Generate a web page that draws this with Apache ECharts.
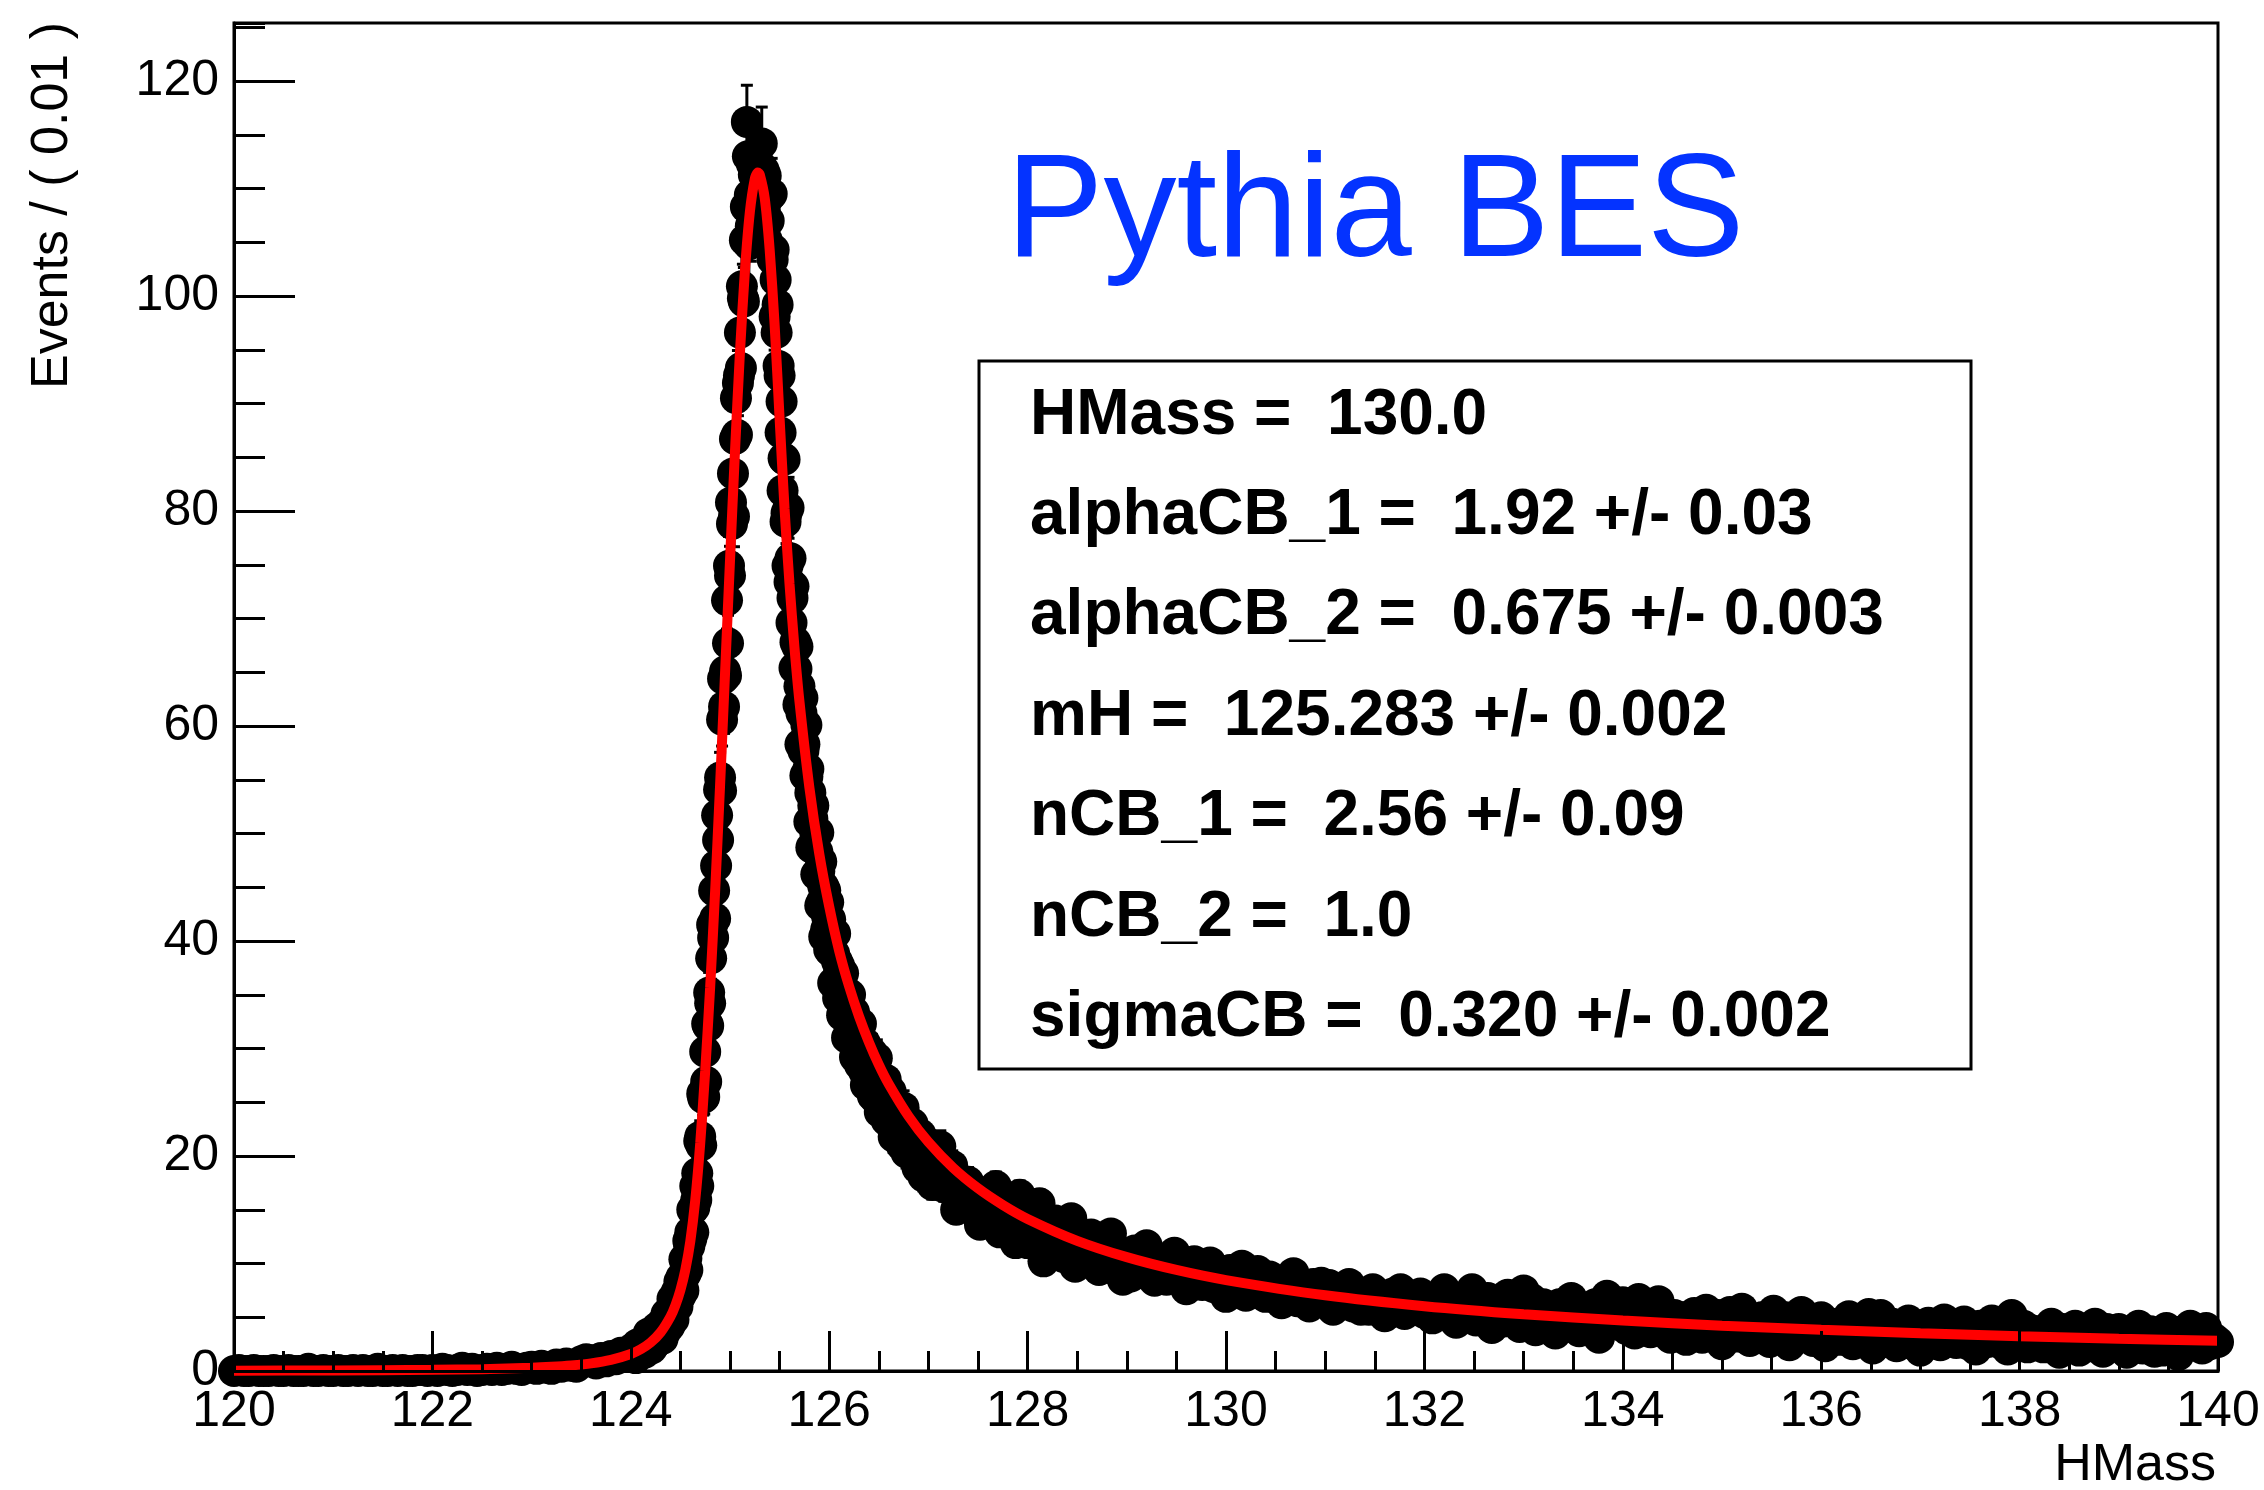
<!DOCTYPE html>
<html>
<head>
<meta charset="utf-8">
<script src="https://cdn.jsdelivr.net/npm/echarts@6/dist/echarts.min.js"></script>
<style>
  html, body { margin: 0; padding: 0; background: #ffffff; }
  #chart { width: 2264px; height: 1490px; }
</style>
</head>
<body>
<div id="chart"></div>
<script>
// ---- Binned HMass spectrum (events per bin), three binning segments ----
const lowStart = 120.0, lowStep = 0.05;
const lowEvents = [
  0,0.1,0,0,0.1,0,0,0,0.1,0, 0,0.1,0,0,0,0.2,0,0,0.1,0,
  0,0.1,0,0,0.1,0,0.1,0,0,0.2, 0,0,0.1,0,0.1,0,0,0.1,0.1,0,
  0.1,0,0.2,0.1,0,0.1,0.3,0.1,0.2,0, 0.1,0.2,0.1,0.3,0.1,0.2,0.4,0.2,0.1,0.3,
  0.4,0.2,0.5,0.3,0.2,0.6,0.4,0.7,0.5,0.4, 0.9,1.1,1.0,0.7,1.2,0.9,1.4,1.1,1.7,1.4
];

const peakStart = 124.0, peakStep = 0.01;
const peakEvents = [
  1.8,1.3,2.1,1.6,1.8,1.2,2.1,2.5,1.7,2.1,
  1.6,2.3,2.7,2.1,1.7,2.7,2.4,2.2,3.5,2.7,
  3.0,2.1,2.9,3.5,2.8,2.6,4.0,3.4,3.0,4.0,
  3.4,4.4,3.0,4.3,4.2,3.7,5.3,4.5,5.2,4.2,
  5.7,4.9,6.7,4.8,6.1,6.0,7.3,6.0,7.3,8.3,
  7.0,8.7,8.5,7.5,10.4,9.0,10.5,9.4,12.1,11.6,
  12.9,12.3,15.0,12.9,15.2,17.2,15.9,18.4,17.2,21.4,
  21.8,21.0,25.8,25.4,25.5,29.7,26.9,32.3,32.1,35.2,
  34.2,38.4,41.5,40.3,44.7,42.1,47.0,51.7,49.4,54.1,
  55.2,54.0,60.6,64.4,61.8,65.1,64.7,71.7,67.7,74.9,
  74.0,80.8,78.8,83.5,79.5,86.7,90.5,87.1,91.9,92.6,
  96.6,93.3,100.9,99.8,99.5,105.2,108.3,116.2,113.0,104.8,
  109.4,106.5,112.3,109.0,111.3,107.3,113.3,112.5,108.6,112.1,
  110.0,112.1,114.2,107.2,111.7,108.1,111.2,105.2,106.9,107.0,
  109.3,104.4,109.5,103.4,104.3,98.1,101.5,96.6,99.2,93.5,
  92.6,87.3,90.2,81.9,84.9,84.8,79.0,79.8,74.9,80.3,
  73.4,75.6,69.6,71.9,73.0,65.4,67.8,65.3,67.4,62.0,
  63.7,58.3,61.2,62.6,57.7,58.3,55.4,60.1,55.3,56.0,
  51.1,53.8,48.7,51.4,52.6,48.7,50.1,46.2,48.3,50.1,
  46.5,43.3,47.4,43.7,45.1,40.4,44.7,41.1,42.2,43.6,
  39.2,42.0,39.0,40.7,36.1,38.8,40.7,36.1,38.1,34.7,
  37.7,35.0,35.7,33.1,37.0,33.3,35.4,33.7,31.0,34.1,
  32.5,35.0,30.8,32.8,30.9,33.4,29.2,32.2,31.2,29.3,
  31.3,28.5,32.3,29.2,29.7,27.9,30.5,26.6,29.6,28.5,
  27.2,29.3,27.6,29.6,25.6,27.7,27.8,25.3,29.1,25.7,
  26.5,24.1,27.0,25.2,27.2,24.3,25.7,27.1,23.3,25.5,
  23.2,25.0,26.0,23.3,24.1,21.8,24.8,23.3,24.3,22.1,
  24.7,22.5,23.7,21.0,22.9,24.5,21.5,22.7,20.3,23.0,
  21.2,23.0,20.2,21.8,23.0,20.3,21.3,20.3,22.1,18.9,
  21.6,20.3,22.0,19.0,20.8,18.1,21.1,20.3,19.0,21.2
];

const tailStart = 127.0, tailStep = 0.04;
const tailEvents = [
  20.9,17.3,19.3,20.9,17.1,17.6,19.1,15.0,17.7,16.1,
  17.6,15.0,16.4,13.6,16.6,15.2,14.1,17.2,12.9,14.6,
  13.4,15.3,11.9,16.4,13.5,11.9,14.8,12.3,15.6,10.2,
  13.2,10.9,14.0,11.6,10.6,12.1,14.2,9.7,11.3,12.1,
  10.4,12.7,11.2,9.4,11.8,10.2,12.8,9.4,10.9,8.5,
  10.9,8.8,11.2,10.1,9.1,11.7,9.2,8.4,10.5,9.6,
  8.5,9.9,11.0,8.7,9.4,7.6,9.9,10.2,8.7,8.0,
  9.1,10.1,7.8,8.4,9.3,6.9,9.4,8.4,7.7,9.8,
  7.0,8.7,8.2,9.3,7.5,6.9,8.8,7.6,8.2,6.3,
  8.4,7.2,9.1,6.5,7.5,7.8,6.0,8.1,6.7,8.2,
  6.6,8.0,5.7,7.2,7.5,6.6,8.1,6.0,6.8,5.7,
  7.0,5.7,7.6,6.2,7.0,5.1,6.5,7.2,5.7,7.6,
  5.3,6.4,6.9,5.7,7.2,5.4,6.1,4.9,6.5,6.1,
  7.6,5.1,6.2,4.5,6.8,5.8,5.3,7.6,4.7,6.2,
  5.3,6.8,4.0,6.2,5.7,4.6,7.1,4.9,6.3,4.1,
  7.5,4.8,6.7,3.8,5.4,6.2,4.4,5.6,3.5,6.2,
  4.1,5.3,6.8,4.8,3.7,5.6,5.1,4.3,6.2,3.1,
  5.4,7.0,5.8,4.8,4.3,6.4,3.9,5.0,3.5,6.7,
  4.3,5.8,3.6,5.0,6.5,3.8,4.7,3.1,5.2,4.3,
  5.0,2.9,4.6,5.4,3.8,3.1,5.7,4.7,3.4,5.2,
  2.5,4.7,5.5,3.8,3.2,5.8,4.2,2.8,4.8,3.7,
  5.0,3.8,2.7,5.6,4.3,3.2,5.0,2.4,4.4,3.4,
  5.5,3.3,4.1,2.8,4.7,5.0,2.3,4.1,3.5,4.4,
  2.9,4.2,5.1,2.5,3.8,4.4,3.2,5.3,2.1,3.9,
  5.2,2.7,3.9,4.4,2.3,3.8,3.2,4.7,2.5,4.0,
  1.9,4.1,4.5,3.0,3.7,2.4,4.8,3.2,4.1,2.6,
  3.8,4.6,2.5,3.5,2.0,4.2,3.6,2.7,4.7,3.1,
  2.6,4.2,2.0,5.2,3.5,2.8,4.2,2.2,3.8,3.0,
  3.7,2.2,3.4,4.4,2.6,1.7,3.9,3.2,2.7,4.2,
  1.9,3.8,3.3,2.3,4.4,2.8,1.8,3.9,3.4,2.4,
  3.9,2.6,1.7,3.6,3.2,4.2,2.1,2.9,3.7,1.8,
  3.2,1.9,4.0,2.7,3.5,1.5,3.7,2.3,4.2,2.5,
  3.4,2.1,4.0,2.5,3.0,2.7
];

// per-event weight: the statistical error of a bin is sqrt(weight * content)
const EVENT_WEIGHT = 0.1;

// ---- Double Crystal Ball fit curve, sampled ----
const fitMass = [
  120, 121, 122, 122.5, 123, 123.2, 123.4, 123.6, 123.8, 124.0, 124.1, 124.2, 124.3, 124.4,
  124.45, 124.5, 124.55, 124.6, 124.65, 124.7, 124.75, 124.8, 124.85, 124.9, 124.95, 125.0,
  125.05, 125.1, 125.15, 125.2, 125.25, 125.28, 125.3, 125.35, 125.4, 125.45, 125.5, 125.55,
  125.6, 125.65, 125.7, 125.8, 125.9, 126.0, 126.1, 126.2, 126.3, 126.4, 126.5, 126.6, 126.8,
  127.0, 127.25, 127.5, 127.75, 128, 128.5, 129, 129.5, 130, 131, 132, 133, 134, 135, 136,
  137, 138, 139, 140
];
const fitValue = [
  0.03, 0.05, 0.11, 0.17, 0.30, 0.39, 0.52, 0.71, 1.03, 1.58, 2.02, 2.65, 3.59, 5.06,
  6.12, 7.53, 9.42, 12.07, 15.9, 21.2, 27.9, 35.7, 44.6, 54.5, 64.9, 75.4,
  85.5, 94.7, 102.3, 107.8, 110.9, 111.5, 111.3, 109.1, 104.3, 97.3, 88.6, 80.2,
  73.2, 67.3, 62.3, 54.3, 48.1, 43.2, 39.1, 35.8, 33.0, 30.6, 28.5, 26.7, 23.7,
  21.3, 18.9, 17.0, 15.45, 14.15, 12.11, 10.59, 9.40, 8.46, 7.04, 6.03, 5.28, 4.69, 4.22, 3.84,
  3.52, 3.24, 3.01, 2.81
];

// ---- Axis setup and texts ----
const xRange = [120, 140], xMajorStep = 2;
const yRange = [0, 125.4], yMajorStep = 20, yMinorStep = 5;
const xTitle = 'HMass';
const yTitle = 'Events / ( 0.01 )';
const plotTitle = 'Pythia BES';
const fitParams = [
  'HMass =  130.0',
  'alphaCB_1 =  1.92 +/- 0.03',
  'alphaCB_2 =  0.675 +/- 0.003',
  'mH =  125.283 +/- 0.002',
  'nCB_1 =  2.56 +/- 0.09',
  'nCB_2 =  1.0',
  'sigmaCB =  0.320 +/- 0.002'
];

const FONT = "'Liberation Sans', Arial, Helvetica, sans-serif";

function binned(start, step, values) {
  return values.map((v, i) => [+(start + i * step).toFixed(3), v]);
}
const points = [
  ...binned(lowStart, lowStep, lowEvents),
  ...binned(peakStart, peakStep, peakEvents),
  ...binned(tailStart, tailStep, tailEvents)
];
const errorData = points.map(p => [p[0], p[1], Math.sqrt(EVENT_WEIGHT * p[1])]);
const fitData = fitMass.map((m, i) => [m, fitValue[i]]);

const chart = echarts.init(document.getElementById('chart'), null, { renderer: 'canvas' });

const axisLineStyle = { color: '#000', width: 3 };

const statsGraphics = fitParams.map((txt, i) => ({
  type: 'text',
  x: 1030,
  y: 416 + i * 100.4,
  z: 100,
  style: {
    text: txt, fill: '#000', fontSize: 64, fontWeight: 'bold', fontFamily: FONT,
    align: 'left', verticalAlign: 'middle'
  }
}));

chart.setOption({
  animation: false,
  backgroundColor: '#ffffff',
  grid: {
    left: 234, top: 23, width: 1984, height: 1348, containLabel: false,
    show: true, borderColor: '#000', borderWidth: 3, backgroundColor: 'transparent'
  },
  xAxis: {
    type: 'value', min: xRange[0], max: xRange[1], interval: xMajorStep, z: 10,
    axisLine: { show: true, onZero: false, lineStyle: axisLineStyle },
    axisTick: { show: true, inside: true, length: 40, lineStyle: axisLineStyle },
    minorTick: { show: true, splitNumber: 4, length: 20, lineStyle: axisLineStyle },
    axisLabel: { fontSize: 50, color: '#000', fontFamily: FONT, margin: 16 },
    splitLine: { show: false }, minorSplitLine: { show: false }
  },
  yAxis: [
    {
      type: 'value', min: yRange[0], max: yRange[1], interval: yMajorStep, z: 10,
      axisLine: { show: true, onZero: false, lineStyle: axisLineStyle },
      axisTick: { show: true, inside: true, length: 61, lineStyle: axisLineStyle },
      axisLabel: { fontSize: 50, color: '#000', fontFamily: FONT, margin: 15, showMaxLabel: false },
      splitLine: { show: false }
    },
    {
      type: 'value', min: yRange[0], max: yRange[1], interval: yMinorStep, position: 'left', z: 10,
      axisLine: { show: false },
      axisTick: { show: true, inside: true, length: 31, lineStyle: axisLineStyle },
      axisLabel: { show: false },
      splitLine: { show: false }
    }
  ],
  graphic: [
    {
      type: 'text', x: 53, y: 22, rotation: Math.PI / 2,
      style: { text: yTitle, fill: '#000', fontSize: 52, fontFamily: FONT, align: 'right', verticalAlign: 'middle' }
    },
    {
      type: 'text', x: 2216, y: 1466,
      style: { text: xTitle, fill: '#000', fontSize: 52, fontFamily: FONT, align: 'right', verticalAlign: 'middle' }
    },
    {
      type: 'text', x: 1006, y: 216, z: 100,
      style: { text: plotTitle, fill: '#0433ff', fontSize: 146, fontFamily: FONT, align: 'left', verticalAlign: 'middle' }
    },
    {
      type: 'rect', z: 90,
      shape: { x: 979, y: 361, width: 992, height: 708 },
      style: { fill: 'transparent', stroke: '#000', lineWidth: 3 }
    },
    ...statsGraphics
  ],
  series: [
    {
      type: 'custom', name: 'errors', data: errorData, z: 2, clip: false,
      renderItem: function (params, api) {
        const x = api.value(0), y = api.value(1), e = api.value(2);
        const top = api.coord([x, y + e]);
        const bot = api.coord([x, y - e]);
        const cap = 6;
        const st = { stroke: '#000', lineWidth: 3 };
        return {
          type: 'group',
          children: [
            { type: 'line', shape: { x1: top[0], y1: top[1], x2: bot[0], y2: bot[1] }, style: st },
            { type: 'line', shape: { x1: top[0] - cap, y1: top[1], x2: top[0] + cap, y2: top[1] }, style: st },
            { type: 'line', shape: { x1: bot[0] - cap, y1: bot[1], x2: bot[0] + cap, y2: bot[1] }, style: st }
          ]
        };
      }
    },
    {
      type: 'scatter', name: 'data', data: points, z: 3, clip: false,
      symbol: 'circle', symbolSize: 32,
      itemStyle: { color: '#000', opacity: 1 },
      emphasis: { disabled: true }
    },
    {
      type: 'line', name: 'fit', data: fitData, z: 4, clip: false,
      showSymbol: false, smooth: 0.25,
      lineStyle: { color: '#ff0000', width: 10 },
      emphasis: { disabled: true }
    }
  ]
});
</script>
</body>
</html>
